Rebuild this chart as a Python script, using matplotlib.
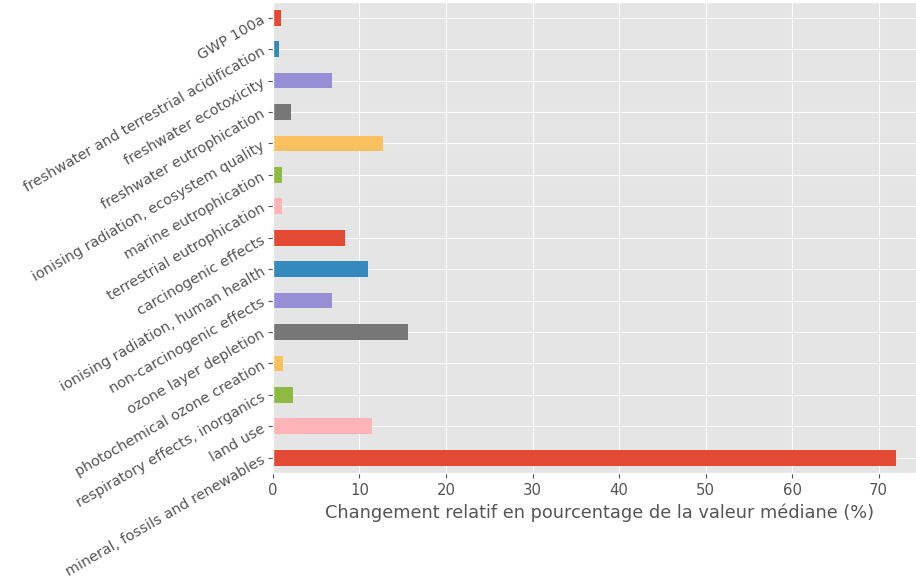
import matplotlib
matplotlib.use("Agg")
import matplotlib.pyplot as plt

plt.style.use("ggplot")

categories = [
    "GWP 100a",
    "freshwater and terrestrial acidification",
    "freshwater ecotoxicity",
    "freshwater eutrophication",
    "ionising radiation, ecosystem quality",
    "marine eutrophication",
    "terrestrial eutrophication",
    "carcinogenic effects",
    "ionising radiation, human health",
    "non-carcinogenic effects",
    "ozone layer depletion",
    "photochemical ozone creation",
    "respiratory effects, inorganics",
    "land use",
    "mineral, fossils and renewables",
]
values = [0.9, 0.7, 6.8, 2.1, 12.7, 1.0, 1.0, 8.3,
          11.0, 6.8, 15.6, 1.2, 2.3, 11.4, 72.0]
xlabel = "Changement relatif en pourcentage de la valeur médiane (%)"

cycle = ["#E24A33", "#348ABD", "#988ED5", "#777777", "#FBC15E", "#8EBA42", "#FFB5B8"]
colors = [cycle[i % len(cycle)] for i in range(len(categories))]

fig = plt.figure(figsize=(9.16, 5.78), dpi=100)
# the original axes runs slightly past the right edge of the picture
ax = fig.add_axes([0.298, 0.181, 0.714, 0.8155])

n = len(categories)
ypos = [n - 1 - i for i in range(n)]
ax.barh(ypos, values, height=0.5, color=colors)
ax.set_yticks(ypos)
ax.set_yticklabels(categories, rotation=30, ha="right", rotation_mode="anchor", fontsize=10.4)
ax.set_ylim(-0.5, n - 0.5)
ax.set_xlim(0, 75.6)
ax.set_xticks(range(0, 71, 10))
ax.set_xlabel(xlabel, fontsize=12.8)
ax.tick_params(axis="x", labelsize=10.7)

fig.savefig("out.png", dpi=100)
